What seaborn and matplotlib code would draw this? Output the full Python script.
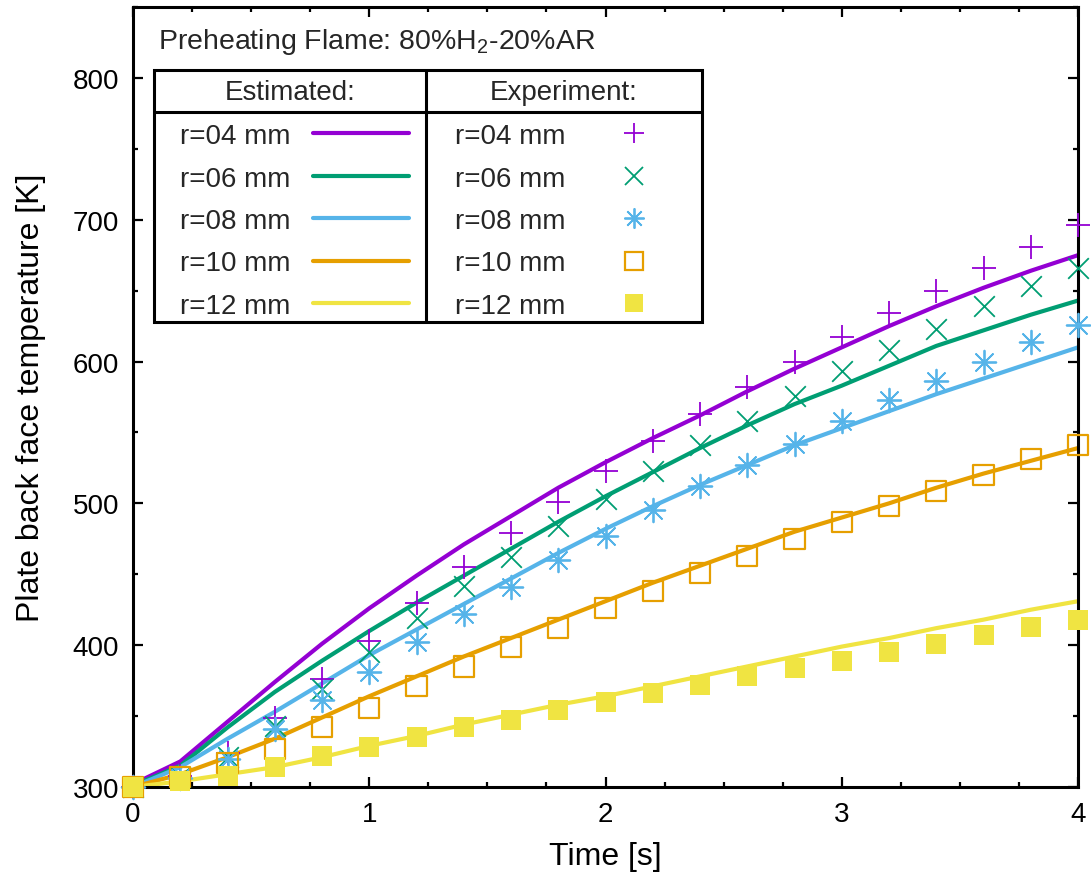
import matplotlib
matplotlib.use("Agg")
import matplotlib.pyplot as plt
from matplotlib.lines import Line2D
from matplotlib.patches import Rectangle
from matplotlib.ticker import MultipleLocator
import seaborn as sns
import pandas as pd

# ---------------- data ----------------
time_s = [0.0, 0.2, 0.4, 0.6, 0.8, 1.0, 1.2, 1.4, 1.6, 1.8, 2.0,
          2.2, 2.4, 2.6, 2.8, 3.0, 3.2, 3.4, 3.6, 3.8, 4.0]

radii = ["r=04 mm", "r=06 mm", "r=08 mm", "r=10 mm", "r=12 mm"]

est_04 = [302, 318, 346, 374, 401, 426, 449, 471, 491, 511, 529, 546, 562, 579, 595, 610, 625, 639, 652, 664, 675]
est_06 = [301, 315, 342, 367, 389, 410, 430, 449, 468, 487, 505, 522, 539, 555, 570, 583, 597, 611, 622, 633, 643]
est_08 = [300, 314, 334, 353, 373, 393, 411, 429, 447, 465, 482, 498, 513, 527, 541, 553, 565, 577, 588, 599, 610]
est_10 = [300, 309, 321, 334, 349, 364, 378, 392, 405, 418, 431, 444, 456, 468, 480, 490, 500, 511, 521, 530, 539]
est_12 = [300, 304, 309, 314, 321, 329, 336, 344, 351, 358, 364, 371, 378, 385, 392, 399, 405, 412, 418, 425, 431]

exp_04 = [300, 308, 324, 349, 376, 403, 430, 455, 479, 501, 523, 544, 563, 582, 600, 617, 634, 650, 666, 681, 696]
exp_06 = [300, 307, 321, 343, 369, 395, 419, 442, 462, 484, 503, 523, 541, 558, 576, 593, 608, 623, 639, 653, 666]
exp_08 = [300, 306, 320, 341, 361, 381, 402, 422, 441, 460, 477, 495, 512, 527, 542, 558, 573, 586, 600, 614, 626]
exp_10 = [300, 307, 317, 327, 342, 356, 371, 385, 399, 412, 426, 438, 451, 463, 475, 487, 498, 509, 520, 531, 541]
exp_12 = [300, 304, 308, 314, 322, 328, 335, 342, 347, 354, 360, 366, 372, 378, 384, 389, 395, 401, 407, 413, 418]

colors = ["#9400D3", "#009E73", "#56B4E9", "#E69F00", "#F0E442"]

estimated = [est_04, est_06, est_08, est_10, est_12]
experiment = [exp_04, exp_06, exp_08, exp_10, exp_12]

# ---------------- style ----------------
sns.set_theme(style="ticks")
plt.rcParams["font.family"] = ["Liberation Sans", "DejaVu Sans"]
plt.rcParams["mathtext.fontset"] = "custom"
plt.rcParams["mathtext.rm"] = "Liberation Sans"
plt.rcParams["mathtext.it"] = "Liberation Sans:italic"

FS = 20

fig = plt.figure(figsize=(10.91, 8.79), dpi=100)
ax = fig.add_axes([133 / 1091, 91 / 879, 945 / 1091, 780 / 879])

# estimated curves
est_df = pd.DataFrame({
    "t": time_s * 5,
    "T": sum(estimated, []),
    "r": sum([[r] * len(time_s) for r in radii], []),
})
sns.lineplot(data=est_df, x="t", y="T", hue="r", palette=colors,
             hue_order=radii, linewidth=3, legend=False, ax=ax, zorder=2)

# experimental markers
marker_specs = [
    dict(marker="+", s=280, linewidth=1.3),
    dict(marker="x", s=220, linewidth=1.3),
    dict(marker=(8, 2, 0), s=290, linewidth=1.3),
    dict(marker="s", s=210, linewidth=1.6, facecolor="none"),
    dict(marker="s", s=210, linewidth=0),
]
for vals, c, spec in zip(experiment, colors, marker_specs):
    kw = dict(spec)
    if kw["marker"] == "s":
        kw["edgecolor"] = c
    sns.scatterplot(x=time_s, y=vals, color=c, ax=ax, clip_on=False,
                    zorder=5, legend=False, **kw)

# axes
ax.set_xlim(0, 4)
ax.set_ylim(300, 850)
ax.xaxis.set_major_locator(MultipleLocator(1))
ax.xaxis.set_minor_locator(MultipleLocator(0.25))
ax.yaxis.set_major_locator(MultipleLocator(100))
ax.yaxis.set_minor_locator(MultipleLocator(50))
ax.set_yticks([300, 400, 500, 600, 700, 800])
ax.tick_params(which="both", direction="in", top=True, right=True,
               labelsize=20, width=1.6, color="black", labelcolor="black")
ax.tick_params(which="major", length=7, pad=10)
ax.tick_params(which="minor", length=3.5)
for sp in ax.spines.values():
    sp.set_linewidth(2.2)
    sp.set_color("black")
    sp.set_zorder(4)

ax.set_xlabel("Time [s]", fontsize=23, labelpad=10, color="black")
ax.set_ylabel("Plate back face temperature [K]", fontsize=23, labelpad=19, color="black")

# ---------------- legend table ----------------
ax.text(0.026, 0.956, r"Preheating Flame: 80%H$\mathregular{_2}$-20%AR",
        transform=ax.transAxes, fontsize=20.5, va="center", ha="left")

bx0, bx1, by0, by1 = 0.0222, 0.602, 0.596, 0.919
xdiv, yhead = 0.310, 0.865
ax.add_patch(Rectangle((bx0, by0), bx1 - bx0, by1 - by0, transform=ax.transAxes,
                       facecolor="white", edgecolor="black", linewidth=2.2, zorder=6))
ax.plot([xdiv, xdiv], [by0, by1], transform=ax.transAxes, color="black", lw=2.2, zorder=7)
ax.plot([bx0, bx1], [yhead, yhead], transform=ax.transAxes, color="black", lw=2.2, zorder=7)
ax.text((bx0 + xdiv) / 2, 0.891, "Estimated:", transform=ax.transAxes,
        fontsize=FS, ha="center", va="center", zorder=8)
ax.text((xdiv + bx1) / 2, 0.891, "Experiment:", transform=ax.transAxes,
        fontsize=FS, ha="center", va="center", zorder=8)

line_handles = [Line2D([], [], color=c, lw=3) for c in colors]
leg1 = ax.legend(line_handles, radii, loc="upper left", bbox_to_anchor=(0.0497, 0.851),
                 bbox_transform=ax.transAxes, frameon=False, markerfirst=False,
                 fontsize=FS, handlelength=3.45, handletextpad=0.8,
                 labelspacing=0.59, borderpad=0, borderaxespad=0)
leg1.set_zorder(8)
ax.add_artist(leg1)

mk_handles = [
    Line2D([], [], color=colors[0], marker="+", ls="none", markersize=14, markeredgewidth=1.3),
    Line2D([], [], color=colors[1], marker="x", ls="none", markersize=12.5, markeredgewidth=1.3),
    Line2D([], [], color=colors[2], marker=(8, 2, 0), ls="none", markersize=14.5, markeredgewidth=1.3),
    Line2D([], [], color=colors[3], marker="s", ls="none", markersize=12.5,
           markerfacecolor="none", markeredgewidth=1.6),
    Line2D([], [], color=colors[4], marker="s", ls="none", markersize=12.5, markeredgewidth=0),
]
leg2 = ax.legend(mk_handles, radii, loc="upper left", bbox_to_anchor=(0.3407, 0.851),
                 bbox_transform=ax.transAxes, frameon=False, markerfirst=False,
                 fontsize=FS, handlelength=2.0, handletextpad=1.48,
                 labelspacing=0.59, borderpad=0, borderaxespad=0)
leg2.set_zorder(8)

fig.savefig("out.png", dpi=100)
